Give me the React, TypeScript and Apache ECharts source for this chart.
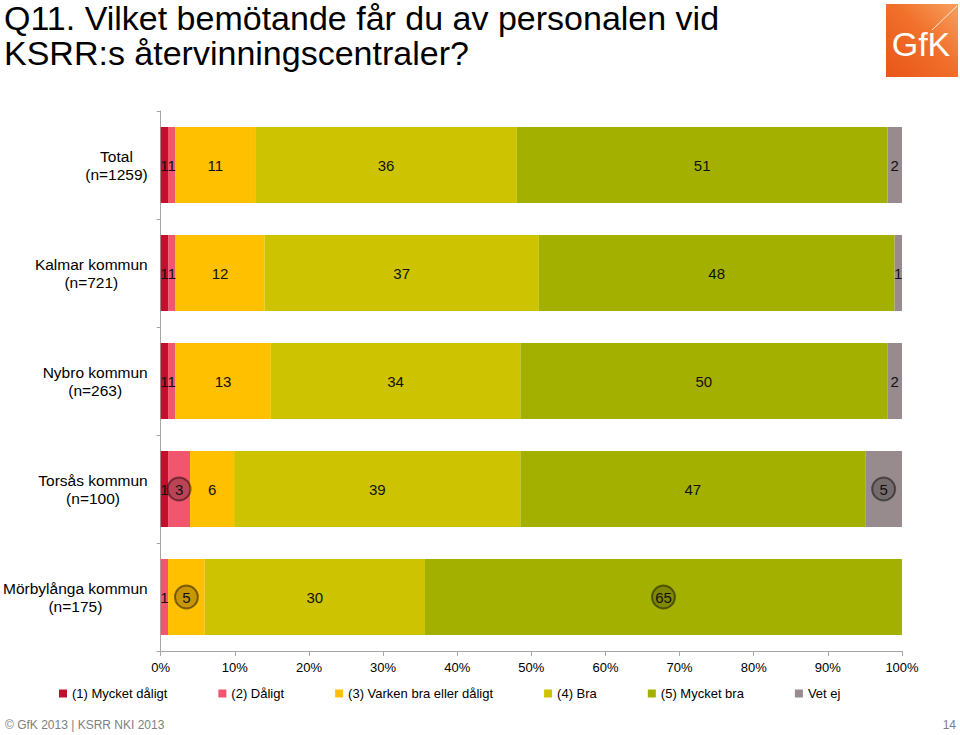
import React, { useEffect, useRef } from "react";
import * as echarts from "echarts";

const FONT = '"Liberation Sans", Arial, sans-serif';

const categories = [
  "Total\n(n=1259)",
  "Kalmar kommun\n(n=721)",
  "Nybro kommun\n(n=263)",
  "Torsås kommun\n(n=100)",
  "Mörbylånga kommun\n(n=175)",
];

const seriesNames = [
  "(1) Mycket dåligt",
  "(2) Dåligt",
  "(3) Varken bra eller dåligt",
  "(4) Bra",
  "(5) Mycket bra",
  "Vet ej",
];

const mycketDaligt = [1, 1, 1, 1, 0];
const daligt = [1, 1, 1, 3, 1];
const varken = [11, 12, 13, 6, 5];
const bra = [36, 37, 34, 39, 30];
const mycketBra = [51, 48, 50, 47, 65];
const vetEj = [2, 1, 2, 5, 0];

// significance-marked cells: [seriesIndex, categoryIndex]
const circled = [
  [1, 3],
  [5, 3],
  [2, 4],
  [4, 4],
];

const xTicks = [0, 10, 20, 30, 40, 50, 60, 70, 80, 90, 100];

const colors = ["#c0102d", "#f0566d", "#ffc000", "#cdc300", "#a3b000", "#978b8e"];

export default function App() {
  const ref = useRef<HTMLDivElement>(null);
  useEffect(() => {
    if (!ref.current) return;
    const chart = echarts.init(ref.current, null, { renderer: "svg" });
    const all = [mycketDaligt, daligt, varken, bra, mycketBra, vetEj];
    const rowSums = categories.map((_, r) => all.reduce((s, arr) => s + arr[r], 0));

    const series = all.map((vals, si) => ({
      name: seriesNames[si],
      type: "bar",
      stack: "total",
      barWidth: 76,
      itemStyle: { color: colors[si] },
      label: {
        show: true,
        position: "inside",
        color: "#111",
        fontSize: 15,
        fontFamily: FONT,
        formatter: (p: any) => {
          const v = vals[p.dataIndex];
          return v ? String(v) : "";
        },
      },
      data: vals.map((v, r) => {
        const isCircled = circled.some((c) => c[0] === si && c[1] === r);
        const item: any = { value: (v / rowSums[r]) * 100 };
        if (isCircled) {
          item.label = {
            backgroundColor: "rgba(0,0,0,0.22)",
            borderColor: "rgba(0,0,0,0.45)",
            borderWidth: 1,
            borderRadius: 12,
            width: 23,
            height: 23,
            lineHeight: 23,
            align: "center",
            padding: 0,
          };
        }
        return item;
      }),
    }));

    chart.setOption({
      animation: false,
      backgroundColor: "#fff",
      textStyle: { fontFamily: FONT },
      grid: { left: 160, right: 58, top: 111, bottom: 84 },
      legend: {
        data: seriesNames,
        left: 59,
        top: 687,
        icon: "rect",
        itemWidth: 8,
        itemHeight: 8,
        itemGap: 51,
        padding: 0,
        textStyle: { fontSize: 13, color: "#000", fontFamily: FONT },
      },
      xAxis: {
        type: "value",
        min: xTicks[0],
        max: xTicks[xTicks.length - 1],
        interval: xTicks[1] - xTicks[0],
        axisLine: { show: true, lineStyle: { color: "#a6a6a6" } },
        axisTick: { show: true, length: 5, lineStyle: { color: "#a6a6a6" } },
        splitLine: { show: false },
        axisLabel: {
          formatter: "{value}%",
          color: "#000",
          fontSize: 13,
          margin: 10,
          fontFamily: FONT,
        },
      },
      yAxis: {
        type: "category",
        inverse: true,
        data: categories,
        axisLine: { show: true, lineStyle: { color: "#a6a6a6" } },
        axisTick: { show: true, length: 4, lineStyle: { color: "#a6a6a6" } },
        axisLabel: {
          margin: 13,
          color: "#000",
          formatter: (v: string) =>
            v
              .split("\n")
              .map((l) => `{c|${l}}`)
              .join("\n"),
          rich: {
            c: { align: "center", fontSize: 15.5, lineHeight: 18, color: "#000", fontFamily: FONT },
          },
        },
      },
      series,
      graphic: [
        {
          type: "text",
          left: 4,
          top: 0,
          style: {
            text: "Q11. Vilket bemötande får du av personalen vid\nKSRR:s återvinningscentraler?",
            fontSize: 34,
            lineHeight: 35,
            fill: "#000",
            fontFamily: FONT,
          },
        },
        {
          type: "rect",
          shape: { x: 886, y: 4, width: 72, height: 73 },
          style: {
            fill: new echarts.graphic.LinearGradient(1, 0, 0, 1, [
              { offset: 0, color: "#f8a060" },
              { offset: 0.45, color: "#f0702a" },
              { offset: 1, color: "#e85518" },
            ]),
          },
        },
        {
          type: "line",
          shape: { x1: 932, y1: 30, x2: 957, y2: 6 },
          style: { stroke: "rgba(255,255,255,0.8)", lineWidth: 1 },
        },
        {
          type: "text",
          x: 921,
          y: 44,
          style: {
            text: "GfK",
            fontSize: 34,
            fill: "#fff",
            fontFamily: FONT,
            align: "center",
            verticalAlign: "middle",
          },
        },
        {
          type: "text",
          x: 5,
          y: 725,
          style: {
            text: "© GfK 2013 | KSRR NKI 2013",
            fontSize: 12,
            fill: "#808080",
            fontFamily: FONT,
            verticalAlign: "middle",
          },
        },
        {
          type: "text",
          x: 956,
          y: 725,
          style: {
            text: "14",
            fontSize: 12,
            fill: "#808080",
            fontFamily: FONT,
            align: "right",
            verticalAlign: "middle",
          },
        },
      ],
    });
    return () => chart.dispose();
  }, []);
  return (
    <div
      ref={ref}
      style={{ position: "absolute", left: 0, top: 0, width: 960, height: 735 }}
    />
  );
}
